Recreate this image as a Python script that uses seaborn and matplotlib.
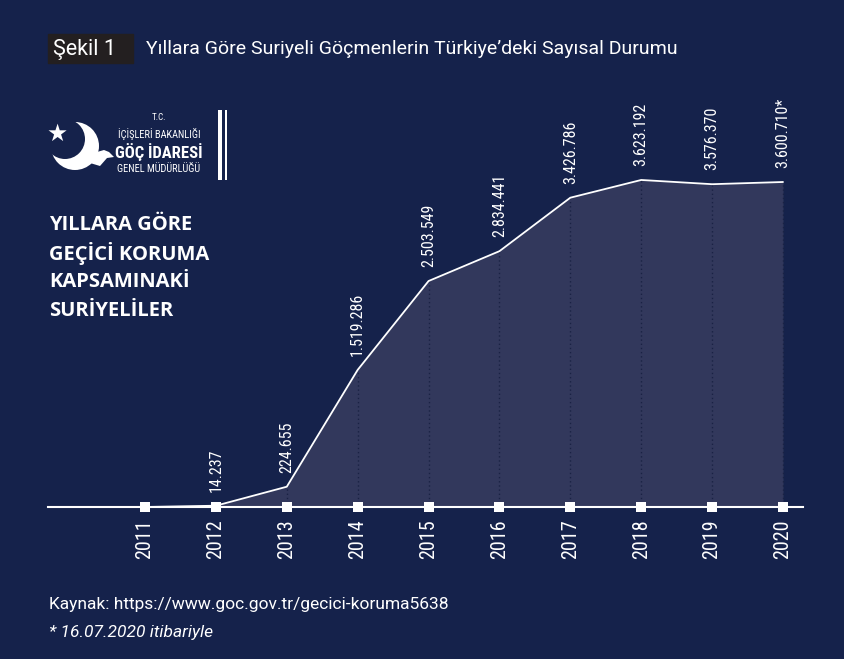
import matplotlib
matplotlib.use("Agg")
import matplotlib.pyplot as plt
import seaborn as sns
import numpy as np
from matplotlib.patches import Circle, Polygon, Rectangle
from matplotlib import font_manager

years = [2011, 2012, 2013, 2014, 2015, 2016, 2017, 2018, 2019, 2020]
values = [0, 14237, 224655, 1519286, 2503549, 2834441, 3426786, 3623192, 3576370, 3600710]
value_labels = ["", "14.237", "224.655", "1.519.286", "2.503.549", "2.834.441",
                "3.426.786", "3.623.192", "3.576.370", "3.600.710*"]
year_labels = [str(y) for y in years]

BG = "#15224b"
FILL = "#32385c"
W = 845
H = 659

sns.set_theme(style="white")
names = {f.name for f in font_manager.fontManager.ttflist}
narrow = None
for cand in ["Roboto Condensed", "Liberation Sans Narrow", "Open Sans Condensed", "Roboto"]:
    if cand in names:
        narrow = cand
        break
if narrow is None:
    narrow = "DejaVu Sans"
plt.rcParams["font.family"] = [narrow, "DejaVu Sans"]
REG = ["Roboto", "DejaVu Sans"]

fig = plt.figure(figsize=(W / 100, H / 100), dpi=100, facecolor=BG)

def px(x, y):
    return (x / W, 1 - y / H)

# axes: x from 48 to 803 px, y from 80 to 507 px
ax = fig.add_axes([48 / W, (H - 507) / H, (803 - 48) / W, (507 - 80) / H])
ax.patch.set_alpha(0)
ppy = (783 - 145) / 9
ax.set_xlim(2011 - (145 - 48) / ppy, 2020 + (803 - 783) / ppy)
ax.set_ylim(0, 3600710 * 427 / 325)

ax.fill_between(years, values, 0, color=FILL, lw=0, zorder=1)
ax.vlines(years, 0, values, colors="#1a2244", linestyles=(0, (1, 2)), lw=1, zorder=2)
sns.lineplot(x=years, y=values, color="white", lw=1.3, ax=ax, zorder=3)
ax.scatter(years, [0] * len(years), marker="s", s=60, color="white", zorder=5,
           clip_on=False, linewidths=0)

for yr, v, lab in zip(years, values, value_labels):
    if lab:
        ax.annotate(lab, (yr, v), xytext=(0, 10), textcoords="offset points",
                    rotation=90, ha="center", va="bottom", color="white",
                    fontsize=11.5, annotation_clip=False)

for s in ["top", "right", "left"]:
    ax.spines[s].set_visible(False)
ax.spines["bottom"].set_color("white")
ax.spines["bottom"].set_linewidth(1.5)
ax.set_yticks([])
ax.set_xticks(years)
ax.set_xticklabels(year_labels, rotation=90, color="white", fontsize=14.5)
ax.tick_params(axis="x", length=0, pad=9)
ax.set_xlabel("")
ax.set_ylabel("")

# Title
fig.patches.append(Rectangle(px(48, 63), 85 / W, 29 / H, transform=fig.transFigure,
                             color="#231f20", zorder=0))
fig.text(*px(53, 49), "Şekil 1", color="white", fontsize=15.5, va="center", ha="left",
         family=REG)
fig.text(*px(146, 49), "Yıllara Göre Suriyeli Göçmenlerin Türkiye’deki Sayısal Durumu",
         color="white", fontsize=14, va="center", ha="left", family=REG)

# Logo
lax = fig.add_axes([0, 0, 1, 1], zorder=10)
lax.set_xlim(0, W)
lax.set_ylim(H, 0)
lax.axis("off")
lax.patch.set_alpha(0)
lax.add_patch(Circle((75, 146), 24, color="white", lw=0, zorder=1))
lax.add_patch(Circle((65, 139), 20, color=BG, lw=0, zorder=2))
lax.add_patch(Polygon([(90, 163), (97, 152), (104, 150), (109, 152), (114, 157),
                       (107, 158), (100, 166)], color="white", lw=0, zorder=3))
lax.text(57, 134, "★", color="white", fontsize=17, ha="center", va="center",
         family="DejaVu Sans", zorder=4)
lax.add_patch(Rectangle((218, 110), 4.5, 70, color="white", lw=0))
lax.add_patch(Rectangle((225, 110), 2.5, 70, color="white", lw=0))
lax.text(159, 118, "T.C.", color="white", fontsize=6.5, ha="center", va="center")
lax.text(159, 134, "İÇİŞLERİ BAKANLIĞI", color="white", fontsize=7.5, ha="center", va="center")
lax.text(159, 152, "GÖÇ İDARESİ", color="white", fontsize=12, ha="center", va="center",
         fontweight="bold")
lax.text(159, 169, "GENEL MÜDÜRLÜĞÜ", color="white", fontsize=7.5, ha="center", va="center")

# Left heading
for i, line in enumerate(["YILLARA GÖRE", "GEÇİCİ KORUMA", "KAPSAMINAKİ", "SURİYELİLER"]):
    fig.text(*px(49, 225 + 28.5 * i), line, color="white", fontsize=14.5,
             fontweight="bold", family=["Open Sans", "DejaVu Sans"], va="center", ha="left")

# Footer
fig.text(*px(49, 605), "Kaynak: https://www.goc.gov.tr/gecici-koruma5638", color="white",
         fontsize=12.5, va="center", ha="left", family=REG)
fig.text(*px(49, 632), "* 16.07.2020 itibariyle", color="white", fontsize=12.5,
         style="italic", va="center", ha="left", family=REG)

fig.savefig("out.png", dpi=100, facecolor=BG)
